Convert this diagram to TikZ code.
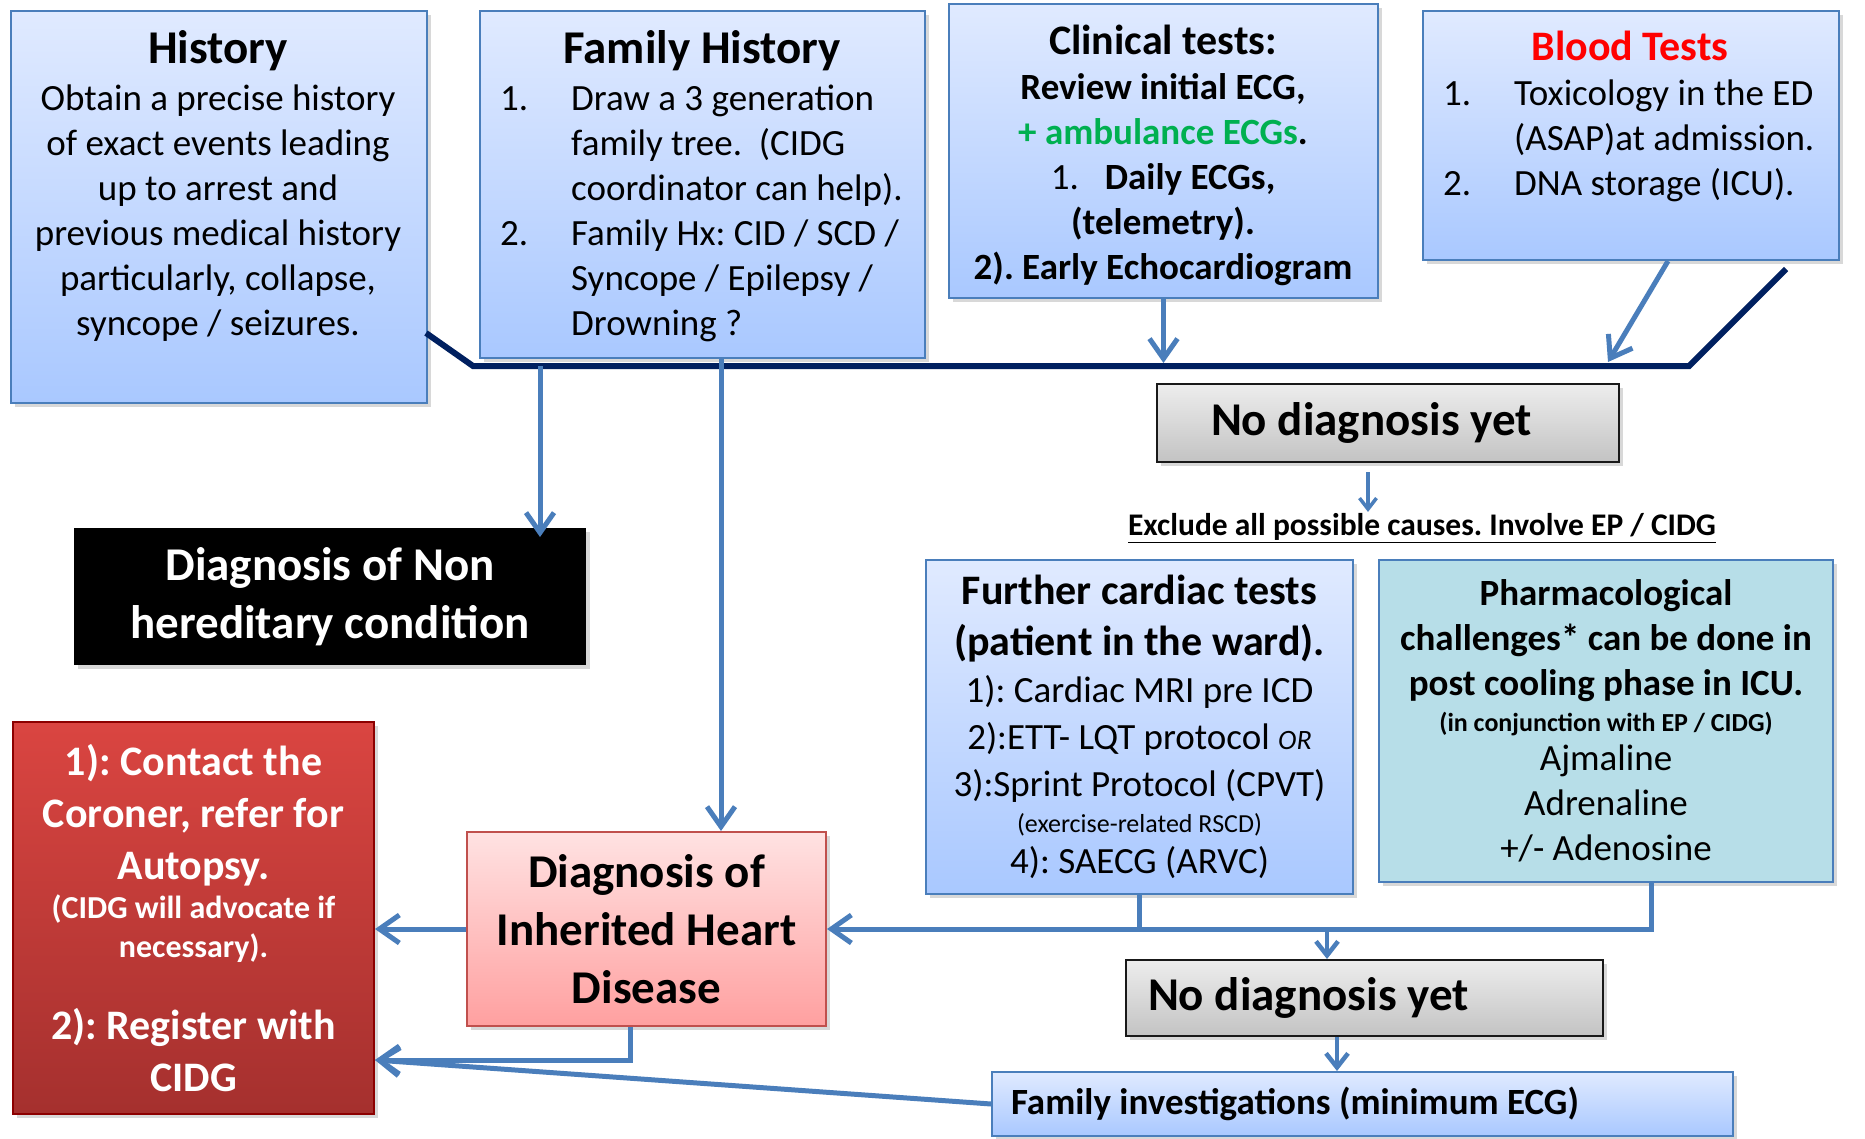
\documentclass[tikz,border=0pt]{standalone}
\usepackage{fontspec}
\setmainfont{Carlito}
\frenchspacing
\usetikzlibrary{arrows.meta,shadows,calc}
\definecolor{blueT}{HTML}{E0EAFF}
\definecolor{blueB}{HTML}{A9C8FF}
\definecolor{edgeblue}{HTML}{4A7EBB}
\definecolor{navy}{HTML}{002060}
\definecolor{redT}{HTML}{DA4541}
\definecolor{redB}{HTML}{A5302E}
\definecolor{pinkT}{HTML}{FFE2E2}
\definecolor{pinkB}{HTML}{FFA0A0}
\definecolor{pinkedge}{HTML}{C0504D}
\definecolor{greyT}{HTML}{EDEDED}
\definecolor{greyB}{HTML}{C3C3C3}
\definecolor{pharmfill}{HTML}{B7DEE8}
\definecolor{ambgreen}{HTML}{00B050}
\newcommand{\bodyfont}{\fontsize{37}{45}\selectfont}
\newcommand{\headfont}{\fontsize{42}{51}\selectfont\bfseries}
\newcommand{\bigfont}{\fontsize{47}{58}\selectfont\bfseries}
\newcommand{\tinyfont}{\fontsize{26}{36}\selectfont}
\tikzset{
  box/.style={anchor=north west,inner sep=0pt,line width=2pt,
    drop shadow={shadow xshift=4pt,shadow yshift=-4pt,opacity=.3}},
  bluebox/.style={box,draw=edgeblue,top color=blueT,bottom color=blueB},
  greybox/.style={box,draw=black!90,top color=greyT,bottom color=greyB,font=\bigfont},
  flow/.style={edgeblue,line width=5pt,-{Straight Barb[length=20pt,width=28pt]}},
  flowmid/.style={edgeblue,line width=4.5pt,-{Straight Barb[length=14pt,width=22pt]}},
  flowsmall/.style={edgeblue,line width=3.5pt,-{Straight Barb[length=11pt,width=17pt]}},
  link/.style={edgeblue,line width=5pt},
  trunk/.style={navy,line width=6pt}
}
\begin{document}
\begin{tikzpicture}[x=1pt,y=-1pt]
\path[use as bounding box,fill=white] (0,0) rectangle (1865,1139);
% top row
\node[bluebox,minimum width=416pt,minimum height=392pt] (hist) at (10,10) {};
\node[bluebox,minimum width=445pt,minimum height=347pt] (fam) at (479,10) {};
\node[bluebox,minimum width=429pt,minimum height=294pt] (clin) at (948,3) {};
\node[bluebox,minimum width=416pt,minimum height=249pt] (blood) at (1422,10) {};
\node[font=\bigfont] (histtitle) at (218,51) {History};
\node[font=\bodyfont,align=center] (histtxt) at (218,213)
  {Obtain a precise history\\of exact events leading\\up to arrest and\\previous medical history\\particularly, collapse,\\syncope / seizures.};
\node[font=\bigfont] (famtitle) at (702,51) {Family History};
\node[font=\bodyfont,align=left,anchor=west,inner sep=0pt] (famtxt) at (500,213)
  {\makebox[71pt][l]{1.}Draw a 3 generation\\
   \hspace*{71pt}family tree.\ \ (CIDG\\
   \hspace*{71pt}coordinator can help).\\
   \makebox[71pt][l]{2.}Family Hx: CID / SCD /\\
   \hspace*{71pt}Syncope / Epilepsy /\\
   \hspace*{71pt}Drowning ?};
\node[font=\headfont] (clintitle) at (1163,40) {Clinical tests:};
\node[font=\bodyfont\bfseries,align=center] (clintxt) at (1163,180)
  {Review initial ECG,\\\textcolor{ambgreen}{+ ambulance ECGs}.\\{\mdseries 1.}\hspace{26pt}Daily ECGs,\\(telemetry).\\2). Early Echocardiogram};
\node[font=\headfont,text=red] (bloodtitle) at (1630,46) {Blood Tests};
\node[font=\bodyfont,align=left,anchor=west,inner sep=0pt] (bloodtxt) at (1443,141)
  {\makebox[71pt][l]{1.}Toxicology in the ED\\
   \hspace*{71pt}(ASAP)at admission.\\
   \makebox[71pt][l]{2.}DNA storage (ICU).};
% joining line
\coordinate (hl) at (426,333);
\coordinate (jl) at (473,366);
\coordinate (jr) at (1689,366);
\coordinate (br) at (1786,269);
\draw[trunk] (hl) -- (jl) -- (jr) -- (br);
% middle
\node[box,fill=black,text=white,font=\bigfont,align=center,minimum width=512pt,minimum height=137pt] (nonher) at (73,527)
  {Diagnosis of Non\\hereditary condition};
\node[greybox,text width=354pt,inner xsep=54pt,align=flush left,minimum height=78pt] (nodx) at (1156,383) {No diagnosis yet};
\node[font=\fontsize{31.5}{36}\selectfont\bfseries] (excl) at (1422,528) {\underline{Exclude all possible causes. Involve EP / CIDG}};
\node[bluebox,text width=427pt,align=flush center,minimum height=334pt] (further) at (925,559)
  {{\headfont Further cardiac tests\\(patient in the ward).\par}
   {\fontsize{37}{47}\selectfont 1): Cardiac MRI pre ICD\\2):ETT- LQT protocol {\fontsize{28}{30}\selectfont\itshape OR}\\3):Sprint Protocol (CPVT)\par}
   {\tinyfont (exercise-related RSCD)\par}
   {\fontsize{37}{41}\selectfont 4): SAECG (ARVC)\par}};
\node[box,draw=edgeblue,fill=pharmfill,text width=454pt,align=flush center,minimum height=322pt] (pharma) at (1378,559)
  {{\bodyfont\bfseries Pharmacological\\challenges* can be done in\\post cooling phase in ICU.\par}
   {\tinyfont\bfseries (in conjunction with EP / CIDG)\par}
   {\fontsize{37}{39}\selectfont Ajmaline\par}
   {\bodyfont Adrenaline\\+/- Adenosine\par}};
% bottom
\node[box,draw=red!55!black,top color=redT,bottom color=redB,text=white,text width=361pt,align=flush center,minimum height=392pt] (cor) at (12,721)
  {{\fontsize{42}{52}\selectfont\bfseries 1): Contact the\\Coroner, refer for\\Autopsy.\par}
   {\fontsize{32}{39}\selectfont\bfseries (CIDG will advocate if\\necessary).\par}
   \vspace{30pt}
   {\fontsize{42}{52}\selectfont\bfseries 2): Register with\\CIDG\par}};
\node[box,draw=pinkedge,top color=pinkT,bottom color=pinkB,font=\bigfont,align=center,minimum width=359pt,minimum height=194pt] (inher) at (466,831)
  {Diagnosis of\\Inherited Heart\\Disease};
\node[greybox,text width=433pt,inner xsep=22pt,align=flush left,minimum height=76pt] (nodxb) at (1125,959) {No diagnosis yet};
\node[bluebox,text width=703pt,inner xsep=19pt,align=flush left,minimum height=64pt,font=\bodyfont\bfseries] (faminv) at (991,1071)
  {Family investigations (minimum ECG)};
% connectors
\coordinate (xn) at (540,366);
\coordinate (xf) at (721,0);
\coordinate (bt) at (1608,362);
\coordinate (xe) at (1368,0);
\coordinate (xp) at (1651,0);
\coordinate (xq) at (1327,0);
\coordinate (xr) at (1337,0);
\coordinate (xi) at (630,0);
\coordinate (ct) at (375,1060);
\draw[flow] (xn) -- ($(xn |- nonher.north)+(0,10)$);
\draw[flow] (fam.south -| xf) -- (inher.north -| xf);
\draw[flow] (clin.south) -- ($(clin.south |- jl)+(0,-3)$);
\draw[flow] ([xshift=37pt]blood.south) -- (bt);
\draw[flowsmall] ($(nodx.south -| xe)+(0,9)$) -- ($(excl.north -| xe)+(0,2)$);
\draw[flow] (further.south) |- (inher.east);
\draw[link] (pharma.south -| xp) |- (further.south |- inher.east);
\draw[flowmid] (xq |- inher.east) -- (nodxb.north -| xq);
\draw[flowmid] (nodxb.south -| xr) -- (faminv.north -| xr);
\draw[flow] (inher.west) -- (inher.west -| ct);
\draw[flow] (inher.south -| xi) |- (ct);
\draw[flow] (faminv.west) -- (ct);
\end{tikzpicture}
\end{document}
